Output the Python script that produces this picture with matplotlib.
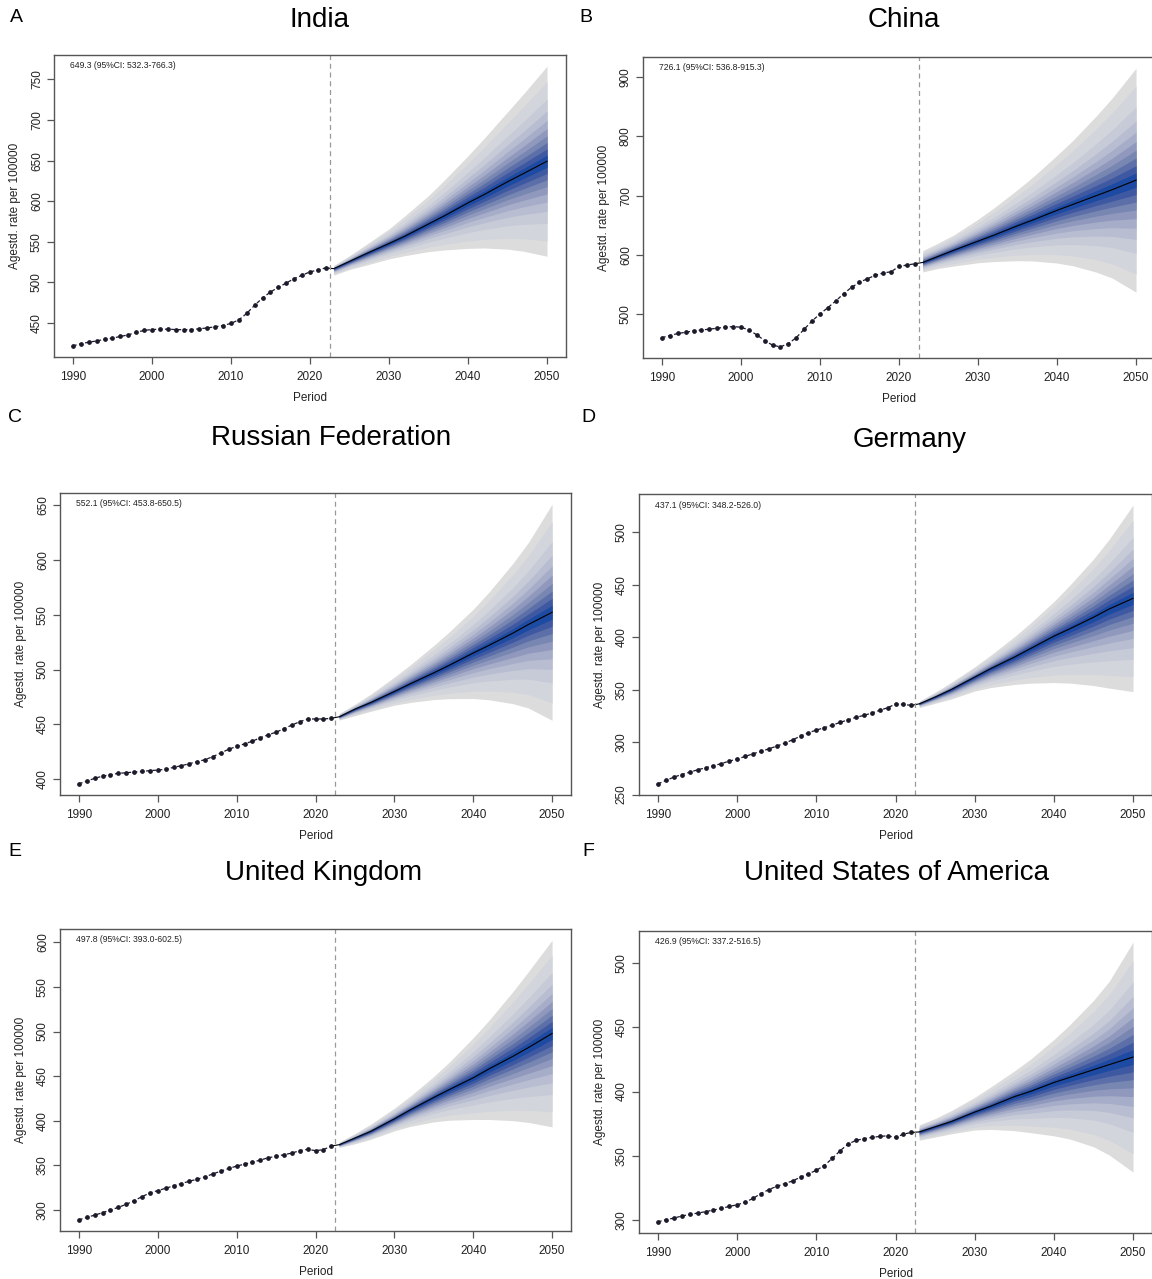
import numpy as np
import matplotlib.pyplot as plt
from matplotlib.ticker import MultipleLocator

plt.rcParams["font.family"] = ["Liberation Sans", "DejaVu Sans"]

years_obs = list(range(1990, 2023))
years_fc = [2023, 2025, 2027, 2030, 2032, 2035, 2037, 2040, 2042, 2045, 2047, 2050]

# observed age-standardised rates, 1990-2022
india_obs = [422.0, 424.5, 426.5, 428.0, 430.0, 431.5, 433.5, 435.5, 438.5, 441.0,
             442.0, 442.5, 442.5, 442.0, 441.8, 442.0, 443.0, 444.0, 445.5, 447.0,
             449.6, 454.0, 462.0, 472.0, 481.0, 488.3, 494.0, 499.4, 504.7, 509.0,
             513.0, 515.4, 518.0]
china_obs = [460.0, 463.5, 467.0, 469.0, 471.4, 473.0, 474.2, 476.0, 477.5, 478.7,
             477.5, 473.0, 464.6, 455.0, 447.2, 444.4, 450.0, 460.0, 474.2, 488.2,
             500.0, 510.7, 522.0, 534.3, 545.0, 553.4, 559.6, 565.2, 569.2, 571.3,
             580.3, 582.6, 584.8]
russia_obs = [396.0, 398.5, 401.0, 403.0, 404.3, 405.5, 406.1, 406.7, 407.3, 408.0,
              408.5, 409.2, 411.0, 412.5, 414.3, 416.2, 418.0, 420.8, 424.1, 427.5,
              430.0, 432.4, 434.8, 437.9, 440.6, 443.0, 446.1, 449.5, 452.5, 455.0,
              455.0, 455.0, 455.6]
germany_obs = [260.2, 263.4, 266.6, 269.1, 271.3, 273.6, 275.5, 277.4, 279.6, 281.8,
               284.0, 286.3, 288.9, 291.1, 293.6, 296.2, 299.0, 302.2, 305.7, 308.9,
               311.5, 313.7, 316.2, 318.8, 321.3, 323.6, 325.5, 327.7, 330.3, 332.8,
               336.3, 336.0, 335.0]
uk_obs = [288.7, 291.4, 294.0, 296.7, 299.7, 302.7, 306.1, 310.2, 314.7, 318.9,
          321.5, 324.1, 326.8, 329.4, 332.0, 334.3, 336.9, 340.3, 343.3, 346.3,
          349.0, 351.2, 353.5, 355.7, 358.4, 359.9, 361.8, 363.6, 366.3, 367.8,
          366.3, 367.4, 371.5]
usa_obs = [298.4, 300.0, 301.3, 302.9, 304.2, 305.2, 306.3, 307.6, 308.9, 310.4,
           311.7, 313.6, 316.7, 320.4, 323.5, 326.1, 328.2, 330.3, 333.2, 335.8,
           338.6, 342.3, 347.8, 353.8, 359.0, 361.9, 363.2, 364.2, 365.0, 365.5,
           364.2, 366.8, 368.1]

# projections: mean, lower and upper 95% bounds at years_fc
india_mean = [517.0, 526.0, 535.0, 548.0, 557.0, 572.0, 582.0, 598.0, 608.0, 624.0, 634.0, 649.3]
india_lo = [509.0, 516.0, 521.0, 529.0, 533.0, 538.0, 540.0, 542.0, 542.5, 541.0, 538.5, 532.3]
india_hi = [521.0, 533.0, 546.0, 566.0, 582.0, 607.0, 626.0, 656.0, 677.0, 710.0, 732.0, 766.3]

china_mean = [587.0, 597.5, 608.0, 623.0, 633.0, 649.0, 659.0, 675.0, 685.0, 700.0, 710.0, 726.1]
china_lo = [571.0, 577.0, 581.0, 586.5, 588.5, 590.0, 589.5, 586.0, 581.5, 570.5, 560.5, 536.8]
china_hi = [607.0, 620.0, 634.0, 660.0, 679.0, 710.0, 732.0, 768.0, 793.0, 835.0, 865.0, 915.3]

russia_mean = [457.0, 464.0, 470.0, 480.0, 487.0, 497.0, 504.0, 515.0, 522.0, 533.0, 541.0, 552.1]
russia_lo = [454.0, 458.0, 462.0, 467.5, 470.0, 472.7, 473.5, 473.6, 472.5, 469.0, 465.0, 453.8]
russia_hi = [460.0, 468.4, 477.6, 493.2, 504.2, 521.9, 534.5, 554.9, 570.5, 596.3, 615.7, 650.5]

germany_mean = [336.5, 343.0, 350.0, 362.0, 370.0, 381.0, 389.0, 401.0, 408.0, 419.0, 427.0, 437.1]
germany_lo = [333.0, 337.0, 341.0, 348.7, 352.0, 355.0, 356.2, 356.8, 356.3, 354.0, 351.5, 348.2]
germany_hi = [339.0, 347.6, 356.8, 371.8, 382.8, 400.5, 413.3, 434.0, 449.5, 474.5, 493.5, 526.0]

uk_mean = [373.0, 380.5, 388.0, 402.0, 412.0, 426.0, 435.0, 448.0, 458.0, 472.0, 482.0, 497.8]
uk_lo = [370.0, 374.0, 379.0, 388.5, 393.5, 398.6, 400.5, 401.3, 401.3, 400.0, 398.0, 393.0]
uk_hi = [376.0, 385.5, 396.0, 414.0, 427.4, 449.6, 466.0, 493.0, 512.6, 544.4, 567.2, 602.5]

usa_mean = [368.5, 372.5, 376.5, 384.0, 388.5, 396.0, 400.0, 407.0, 411.0, 417.0, 421.0, 426.9]
usa_lo = [362.0, 364.5, 367.0, 370.0, 370.5, 369.5, 368.0, 365.5, 363.0, 357.0, 350.5, 337.2]
usa_hi = [374.0, 379.0, 385.0, 395.5, 403.5, 416.0, 425.0, 440.5, 452.0, 471.0, 486.0, 516.5]

# fan levels (central coverage 95%, 90%, 80% ... 10%) as normal z values
band_z = [1.960, 1.645, 1.282, 1.036, 0.842, 0.674, 0.524, 0.385, 0.253, 0.126]
band_colors = ["#dcdcdc", "#d3d5dc", "#c7cbd8", "#b8bdd1", "#a6adc8",
               "#9099bd", "#7886b2", "#5d6fa8", "#3e59a1", "#1d4aa2"]

panels = [
    ("A", "India", india_obs, india_mean, india_lo, india_hi, 50,
     (54, 55, 566, 357), (320, 20), (16, 18)),
    ("B", "China", china_obs, china_mean, china_lo, china_hi, 100,
     (643, 57, 1155, 358), (904, 20), (586, 18)),
    ("C", "Russian Federation", russia_obs, russia_mean, russia_lo, russia_hi, 50,
     (60, 493, 571, 795), (331, 438), (15, 418)),
    ("D", "Germany", germany_obs, germany_mean, germany_lo, germany_hi, 50,
     (639, 494, 1152, 795), (910, 440), (588, 418)),
    ("E", "United Kingdom", uk_obs, uk_mean, uk_lo, uk_hi, 50,
     (60, 929, 571, 1231), (324, 873), (15, 852)),
    ("F", "United States of America", usa_obs, usa_mean, usa_lo, usa_hi, 50,
     (639, 931, 1152, 1233), (896, 873), (588, 852)),
]

W, H = 1152, 1279
fig = plt.figure(figsize=(W / 100, H / 100), dpi=100)

for letter, name, obs, mean, lo, hi, step, box, title_xy, letter_xy in panels:
    l, t, r, b = box
    ax = fig.add_axes([l / W, 1 - b / H, (r - l) / W, (b - t) / H])

    mean = np.array(mean)
    lo = np.array(lo)
    hi = np.array(hi)
    for z, col in zip(band_z, band_colors):
        f = z / band_z[0]
        ax.fill_between(years_fc, mean - f * (mean - lo), mean + f * (hi - mean),
                        color=col, linewidth=0)
    ax.plot([years_obs[-1]] + years_fc, [obs[-1]] + list(mean), color="black", lw=0.8)
    ax.plot(years_obs, obs, color="#1a1a2a", lw=0.9, ls=(0, (3, 2)),
            marker="o", markersize=2.4)
    ax.axvline(2022.5, color="#999999", lw=0.9, ls=(0, (4, 3)))

    ymin = min(min(obs), lo.min())
    ymax = max(max(obs), hi.max())
    pad = 0.04 * (ymax - ymin)
    ax.set_ylim(ymin - pad, ymax + pad)
    ax.set_xlim(1990 - 0.04 * 60, 2050 + 0.04 * 60)
    ax.set_xticks(range(1990, 2051, 10))
    ax.yaxis.set_major_locator(MultipleLocator(step))

    for s in ax.spines.values():
        s.set_color("#555555")
        s.set_linewidth(1.0)
    ax.tick_params(direction="out", length=5, width=0.9, color="#555555",
                   labelsize=8.5, labelcolor="#222222", pad=5)
    ax.tick_params(axis="y", pad=3)
    for lab in ax.get_yticklabels():
        lab.set_rotation(90)
        lab.set_va("center")

    ax.set_xlabel("Period", fontsize=8.5, color="#222222")
    ax.set_ylabel("Agestd. rate per 100000", fontsize=8.5, color="#222222")
    ax.xaxis.set_label_coords(0.5, -35 / (b - t))
    ax.yaxis.set_label_coords(-33 / (r - l), 0.5)

    ax.text(16 / (r - l), 1 - 11 / (b - t),
            f"{mean[-1]:.1f} (95%CI: {lo[-1]:.1f}-{hi[-1]:.1f})",
            transform=ax.transAxes, fontsize=6.2, va="center", ha="left",
            color="#222222")

    fig.text(title_xy[0] / W, 1 - title_xy[1] / H, name, fontsize=20,
             ha="center", va="center")
    fig.text(letter_xy[0] / W, 1 - letter_xy[1] / H, letter, fontsize=14,
             ha="center", va="center")

fig.savefig("out.png", dpi=100)
